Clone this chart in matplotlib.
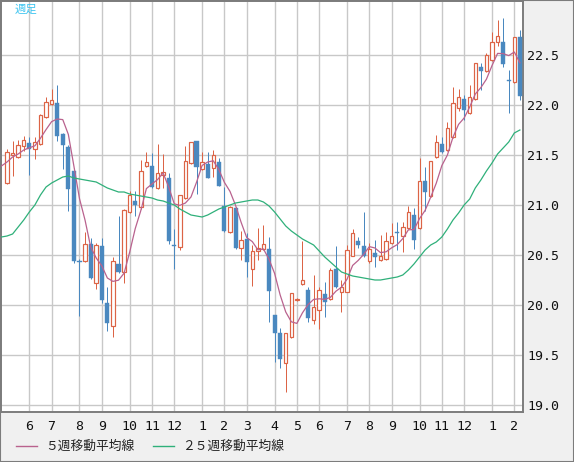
import matplotlib
matplotlib.use('Agg')
import matplotlib.pyplot as plt
import numpy as np
import pandas as pd
from matplotlib.lines import Line2D
from matplotlib.patches import Rectangle

# ---- data (weekly candles) ----
opens = [21.22, 21.50, 21.48, 21.59, 21.62, 21.56, 21.61, 21.88, 22.01, 22.02,
         21.71, 21.58, 21.34, 20.44, 20.44, 20.61, 20.22, 20.59, 20.02, 19.79,
         20.41, 20.33, 20.93, 21.04, 20.98, 21.39, 21.39, 21.17, 21.30, 21.27,
         20.60, 20.58, 21.07, 21.42, 21.64, 21.36, 21.41, 21.37, 21.43, 20.99,
         20.73, 20.97, 20.57, 20.66, 20.36, 20.54, 20.56, 20.56, 19.90, 19.72,
         19.42, 19.68, 20.05, 20.21, 20.15, 19.85, 19.95, 20.11, 20.06, 20.36,
         20.13, 20.13, 20.49, 20.64, 20.59, 20.44, 20.52, 20.45, 20.46, 20.62,
         20.73, 20.69, 20.77, 20.90, 20.77, 21.24, 21.09, 21.48, 21.61, 21.55,
         21.68, 21.97, 22.06, 21.92, 22.06, 22.38, 22.34, 22.45, 22.63, 22.63,
         22.25, 22.23, 22.68]
highs = [21.56, 21.64, 21.65, 21.69, 21.68, 21.68, 21.91, 22.08, 22.16, 22.20,
         21.72, 21.60, 21.37, 20.46, 20.73, 20.67, 20.62, 20.67, 20.18, 20.48,
         20.89, 20.96, 21.14, 21.14, 21.45, 21.53, 21.52, 21.61, 21.51, 21.32,
         20.76, 21.10, 21.59, 21.63, 21.64, 21.53, 21.53, 21.55, 21.47, 21.18,
         20.99, 20.98, 20.74, 20.72, 20.60, 20.77, 20.80, 20.68, 19.90, 19.77,
         19.72, 20.12, 20.07, 20.64, 20.18, 20.30, 20.18, 20.23, 20.37, 20.59,
         20.25, 20.60, 20.76, 20.68, 20.93, 20.62, 20.65, 20.70, 20.73, 20.82,
         20.83, 20.83, 20.99, 20.97, 21.47, 21.38, 21.44, 21.70, 21.68, 21.83,
         22.18, 22.16, 22.10, 22.20, 22.42, 22.42, 22.52, 22.73, 22.85, 22.87,
         22.35, 22.68, 22.75]
lows = [21.21, 21.29, 21.47, 21.54, 21.30, 21.46, 21.60, 21.87, 22.00, 21.64,
        21.36, 20.94, 20.42, 19.89, 20.43, 20.26, 20.16, 20.02, 19.74, 19.68,
        20.32, 20.22, 20.92, 20.89, 20.96, 21.38, 21.17, 21.16, 21.17, 20.61,
        20.36, 20.55, 21.06, 21.41, 21.11, 21.35, 21.27, 21.28, 21.19, 20.73,
        20.72, 20.56, 20.45, 20.28, 20.19, 20.45, 20.55, 19.83, 19.43, 19.37,
        19.13, 19.67, 20.04, 20.20, 19.83, 19.81, 19.76, 19.88, 20.05, 20.17,
        19.93, 20.13, 20.49, 20.57, 20.48, 20.42, 20.38, 20.44, 20.45, 20.61,
        20.55, 20.53, 20.76, 20.56, 20.76, 20.94, 21.08, 21.47, 21.52, 21.54,
        21.67, 21.94, 21.85, 21.91, 22.05, 22.15, 22.33, 22.44, 22.59, 22.38,
        21.92, 22.22, 22.05]
closes = [21.53, 21.52, 21.60, 21.65, 21.56, 21.63, 21.90, 22.03, 22.05, 21.69,
          21.60, 21.16, 20.44, 20.43, 20.61, 20.27, 20.60, 20.05, 19.82, 20.44,
          20.33, 20.95, 21.10, 21.00, 21.34, 21.43, 21.18, 21.32, 21.33, 20.64,
          20.59, 21.10, 21.44, 21.63, 21.38, 21.43, 21.27, 21.50, 21.19, 20.74,
          20.98, 20.57, 20.65, 20.43, 20.54, 20.57, 20.61, 20.14, 19.72, 19.46,
          19.72, 20.12, 20.06, 20.25, 19.87, 19.98, 20.15, 20.03, 20.35, 20.18,
          20.18, 20.55, 20.72, 20.60, 20.49, 20.56, 20.48, 20.49, 20.64, 20.69,
          20.72, 20.78, 20.93, 20.65, 21.24, 21.13, 21.44, 21.63, 21.53, 21.77,
          22.02, 22.08, 21.95, 22.08, 22.42, 22.34, 22.50, 22.63, 22.69, 22.41,
          22.24, 22.68, 22.09]
# moving-average values for the week before the first
# candle and the first four weeks (need closes not shown on the chart)
ma5_prev = 21.39
ma5_head = [21.43, 21.48, 21.51, 21.55]
ma25_prev = 20.68
ma25 = [20.69, 20.71, 20.78, 20.85, 20.93, 21.00, 21.10, 21.18, 21.22, 21.25,
        21.28, 21.29, 21.27, 21.26, 21.25, 21.24, 21.23, 21.20, 21.17, 21.15,
        21.13, 21.13, 21.11, 21.10, 21.09, 21.08, 21.07, 21.05, 21.04, 21.02,
        21.00, 20.96, 20.93, 20.90, 20.89, 20.88, 20.90, 20.93, 20.96, 20.98,
        21.00, 21.02, 21.03, 21.04, 21.05, 21.05, 21.03, 20.99, 20.93, 20.86,
        20.79, 20.74, 20.70, 20.66, 20.63, 20.60, 20.54, 20.48, 20.43, 20.38,
        20.33, 20.31, 20.29, 20.28, 20.27, 20.26, 20.25, 20.25, 20.26, 20.27,
        20.28, 20.30, 20.35, 20.41, 20.48, 20.55, 20.60, 20.63, 20.68, 20.76,
        20.85, 20.92, 21.00, 21.06, 21.17, 21.25, 21.34, 21.42, 21.51, 21.57,
        21.63, 21.72, 21.75]
month_labels = ['6', '7', '8', '9', '10', '11', '12', '1', '2', '3', '4',
                '5', '6', '7', '8', '9', '10', '11', '12', '1', '2']
month_index = [4, 8, 13, 17, 22, 26, 30, 35, 39, 43, 48, 52, 56, 61, 65,
               69, 74, 78, 82, 87, 91]
ytick_vals = [19.0, 19.5, 20.0, 20.5, 21.0, 21.5, 22.0, 22.5]
legend_labels = ['５週移動平均線', '２５週移動平均線']
corner_label = '週足'

# ---- styles ----
UP = '#dc6446'
DOWN = '#4a88bf'
MA5C = '#b9628e'
MA25C = '#2fb07a'
GRID = '#c8c8c8'
FRAME = '#7c7c7c'
PX = 0.72  # one pixel in points

fig = plt.figure(figsize=(5.74, 4.62), dpi=100, facecolor='#f0f0f0')
ax = fig.add_axes([1 / 574, 50 / 462, 522 / 574, 411 / 462])
ax.set_facecolor('white')

o = np.array(opens); h = np.array(highs); l = np.array(lows); c = np.array(closes)
x = np.arange(len(c))
up = c >= o

# wicks
ax.vlines(x[up], l[up], h[up], colors=UP, linewidth=PX, zorder=3)
ax.vlines(x[~up], l[~up], h[~up], colors=DOWN, linewidth=PX, zorder=3)

# bodies
bw = 0.62
bottom = np.minimum(o, c)
height = np.maximum(np.abs(c - o), 0.008)
ax.bar(x[up], height[up], bottom=bottom[up], width=bw, facecolor='white',
       edgecolor=UP, linewidth=PX * 1.2, zorder=4)
ax.bar(x[~up], height[~up], bottom=bottom[~up], width=bw + 0.12, facecolor=DOWN,
       edgecolor=DOWN, linewidth=0.3, zorder=4)

# moving averages
ma5 = pd.Series(closes).rolling(5).mean().to_numpy()
ma5[:4] = ma5_head
xm = np.concatenate([[-1], x])
ax.plot(xm, np.concatenate([[ma5_prev], ma5]), color=MA5C, linewidth=0.9, zorder=5)
ax.plot(xm, np.concatenate([[ma25_prev], ma25]), color=MA25C, linewidth=0.9, zorder=5)

# axes
ax.set_xlim(-1.08, 92.56)
ax.set_ylim(18.93, 23.04)
ax.set_xticks(month_index)
ax.set_xticklabels(month_labels)
ax.set_yticks(ytick_vals)
ax.set_yticklabels([f'{v:.1f}' for v in ytick_vals])
ax.yaxis.tick_right()
ax.tick_params(axis='both', length=0, labelsize=9.5, colors='#111111')
ax.tick_params(axis='y', pad=3)
ax.tick_params(axis='x', pad=6)
for lab in ax.get_xticklabels() + ax.get_yticklabels():
    lab.set_fontfamily('DejaVu Sans Mono')
ax.grid(True, color=GRID, linewidth=1.0, zorder=0)
ax.set_axisbelow(True)
for s in ax.spines.values():
    s.set_color(FRAME)
    s.set_linewidth(1.4)

# corner label
fig.text(15 / 574, 1 - 5 / 462, corner_label, color='#3cc4f0', fontsize=8.2,
         family=['Noto Sans CJK JP', 'DejaVu Sans'], va='top', ha='left')

# legend (manual)
ly = 1 - 446 / 462
fig.add_artist(Line2D([16 / 574, 37 / 574], [ly, ly], color=MA5C, linewidth=1.0))
fig.text(45 / 574, ly, legend_labels[0], fontsize=9.2, color='#222222',
         family=['Noto Sans CJK JP', 'DejaVu Sans'], va='center', ha='left')
fig.add_artist(Line2D([153 / 574, 174 / 574], [ly, ly], color=MA25C, linewidth=1.0))
fig.text(182 / 574, ly, legend_labels[1], fontsize=9.2, color='#222222',
         family=['Noto Sans CJK JP', 'DejaVu Sans'], va='center', ha='left')

# figure border
fig.add_artist(Rectangle((0, 0), 1, 1, transform=fig.transFigure, fill=False,
                         edgecolor=FRAME, linewidth=1.5))

fig.savefig('out.png', dpi=100, facecolor=fig.get_facecolor())
